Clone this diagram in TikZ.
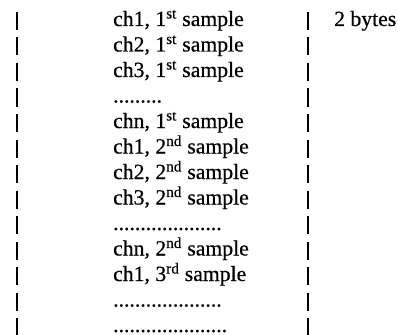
\documentclass[tikz,border=0pt]{standalone}
\usepackage{fontspec}
\setmainfont{Liberation Serif}[FakeBold=0.5]
\newcommand{\periods}[1]{\foreach \i in {1,...,#1}{.}}
\begin{document}
\begin{tikzpicture}[x=1pt, y=-1pt,
  sampletext/.style={anchor=base west, inner sep=0pt, text depth=0pt, font=\fontsize{21.7}{25}\selectfont},
  bar/.style={line width=1.3pt}]
\useasboundingbox (0,0) rectangle (398,334);
% the two columns of separators
\foreach \k in {0,...,12}{
   \draw[bar] (17, 12+25.5*\k) -- (17, 30+25.5*\k);
   \draw[bar] (308, 12+25.5*\k) -- (308, 30+25.5*\k);
   }
% one line per sample word
\foreach \txt [count=\k from 0] in {%
   {ch1, 1\textsuperscript{st} sample},
   {ch2, 1\textsuperscript{st} sample},
   {ch3, 1\textsuperscript{st} sample},
   {\periods{9}},
   {chn, 1\textsuperscript{st} sample},
   {ch1, 2\textsuperscript{nd} sample},
   {ch2, 2\textsuperscript{nd} sample},
   {ch3, 2\textsuperscript{nd} sample},
   {\periods{20}},
   {chn, 2\textsuperscript{nd} sample},
   {ch1, 3\textsuperscript{rd} sample},
   {\periods{20}},
   {\periods{21}}}
   \node[sampletext] (row\k) at (113, 26+25.5*\k) {\txt};
\node[sampletext] (bytes) at (334, 26) {2 bytes};
\end{tikzpicture}
\end{document}
